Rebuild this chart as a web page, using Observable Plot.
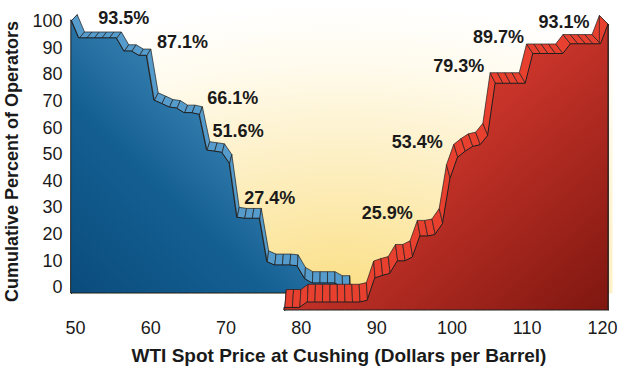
<!DOCTYPE html>
<html>
<head>
<meta charset="utf-8">
<script src="https://cdn.jsdelivr.net/npm/d3@7"></script>
<script src="https://cdn.jsdelivr.net/npm/@observablehq/plot@0.6"></script>
<style>
  body { margin: 0; background: #fff; }
  #chart svg { font-family: "Liberation Sans", Arial, Helvetica, sans-serif; }
</style>
</head>
<body>
<div id="chart"></div>
<script>
// ---- data (cumulative percent of operators by WTI price) ----
const bluePrice = [50,51,52,53,54,55,56,57,58,59,60,61,62,63,64,65,66,67,68,69,70,71,72,73,74,75,76,77,78,79,80,81,82,83,84,85,86,87];
const blueValue = [100,93.5,93.5,93.5,93.5,93.5,93.5,88.7,88.7,87.1,87.1,70.7,69.5,68.2,67.8,66.1,66.1,65.5,52.4,52.0,51.6,47.6,27.8,27.4,27.4,27.4,11.5,10.3,10.3,10.3,10.0,5.3,3.7,3.7,3.7,3.7,2.2,2.2];

const redPrice = [77,78,79,80,81,82,83,84,85,86,87,88,89,90,91,92,93,94,95,96,97,98,99,100,101,102,103,104,105,106,107,108,109,110,111,112,113,114,115,116,117,118,119,120];
const redValue = [0.9,0.9,0.9,2.8,2.8,2.8,2.8,2.8,2.8,2.8,2.8,3.4,11.2,12.1,12.8,17.2,17.2,18.5,25.9,25.9,26.4,30.2,46.0,53.4,55.5,57.2,57.8,61.0,79.3,79.3,79.3,79.3,79.3,89.7,89.7,89.7,89.7,89.7,93.1,93.1,93.1,93.1,93.1,100];

const xTicks = [50,60,70,80,90,100,110,120];
const yTicks = [0,10,20,30,40,50,60,70,80,90,100];

const labelText  = ["93.5%","87.1%","66.1%","51.6%","27.4%","25.9%","53.4%","79.3%","89.7%","93.1%"];
const labelPrice = [56.4, 64.2, 70.9, 71.6, 75.8, 91.4, 95.4, 100.9, 106.2, 114.9];
const labelPct   = [101.1, 92.1, 71.1, 58.6, 33.5, 27.8, 54.5, 83.1, 94.0, 99.6];

const xTitle = "WTI Spot Price at Cushing (Dollars per Barrel)";
const yTitle = "Cumulative Percent of Operators";

// ---- pseudo-3D placement (in chart units) ----
const vanish = {x: 83.9, y: 202};
const blueFace = {dx: -0.53, y0: -2.26, ys: 1.026, depth: 0.022};
const redFace  = {dx: 0.8,  y0: -8.65, ys: 1.075, depth: 0.033};

function build(prices, values, face) {
  const front = prices.map((p, i) => ({x: p + face.dx, y: face.y0 + face.ys * values[i]}));
  const outline = [{x: front[0].x, y: face.y0}, ...front, {x: front[front.length - 1].x, y: face.y0}];
  const back = pt => ({x: pt.x + face.depth * (vanish.x - pt.x), y: pt.y + face.depth * (vanish.y - pt.y)});
  const quads = [];
  for (let i = 0; i < outline.length - 1; i++) {
    const a = outline[i], c = outline[i + 1], ab = back(a), cb = back(c);
    for (const q of [a, c, cb, ab, a]) quads.push({x: q.x, y: q.y, seg: i});
  }
  return {front, quads, base: face.y0};
}
const blue = build(bluePrice, blueValue, blueFace);
const red = build(redPrice, redValue, redFace);

const defs = () => {
  const d = d3.create("svg:defs");
  const bg = d.append("radialGradient").attr("id", "bgGlow").attr("cx", 0.5).attr("cy", 1).attr("r", 1);
  [[0, "#fbdf86"], [0.45, "#fdefc2"], [0.8, "#fffbee"], [1, "#ffffff"]].forEach(([o, c]) =>
    bg.append("stop").attr("offset", o).attr("stop-color", c));
  const bl = d.append("linearGradient").attr("id", "blueFace").attr("x1", 0).attr("y1", 1).attr("x2", 1).attr("y2", 0);
  [[0, "#0a4c7c"], [0.35, "#145f92"], [0.75, "#4a92c3"], [1, "#6aa9d4"]].forEach(([o, c]) =>
    bl.append("stop").attr("offset", o).attr("stop-color", c));
  const rd = d.append("linearGradient").attr("id", "redFace").attr("x1", 0).attr("y1", 0).attr("x2", 1).attr("y2", 1);
  [[0, "#e2412f"], [0.45, "#c9342a"], [1, "#7e1710"]].forEach(([o, c]) =>
    rd.append("stop").attr("offset", o).attr("stop-color", c));
  return d.node();
};

const chart = Plot.plot({
  width: 620,
  height: 375,
  marginLeft: 75,
  marginRight: 18,
  marginTop: 21,
  marginBottom: 88,
  x: {domain: [50, 120]},
  y: {domain: [0, 100]},
  style: {fontFamily: '"Liberation Sans", Arial, Helvetica, sans-serif', background: "white", overflow: "visible"},
  marks: [
    defs,
    Plot.frame({fill: "url(#bgGlow)", stroke: "none", insetLeft: -5, insetRight: -10, insetTop: -18, insetBottom: -6}),
    Plot.line(blue.quads, {x: "x", y: "y", z: "seg", fill: "#559bcc", stroke: "#1e1e1e", strokeWidth: 0.7, curve: "linear"}),
    Plot.areaY(blue.front, {x: "x", y1: blue.base, y2: "y", fill: "url(#blueFace)", stroke: "#1e1e1e", strokeWidth: 1, curve: "linear"}),
    Plot.line(red.quads, {x: "x", y: "y", z: "seg", fill: "#e8402f", stroke: "#1e1e1e", strokeWidth: 0.7, curve: "linear"}),
    Plot.areaY(red.front, {x: "x", y1: red.base, y2: "y", fill: "url(#redFace)", stroke: "#1e1e1e", strokeWidth: 1, curve: "linear"}),
    Plot.text(labelText.map((t, i) => ({t, x: labelPrice[i], y: labelPct[i]})),
      {x: "x", y: "y", text: "t", fontSize: 18, fontWeight: "bold", fill: "#1a1a1a"}),
    Plot.axisX(xTicks, {tickSize: 0, tickPadding: 34, fontSize: 18, fill: "#1a1a1a", label: null}),
    Plot.axisY(yTicks, {tickSize: 0, tickPadding: 13, fontSize: 18, fill: "#1a1a1a", label: null}),
    Plot.text([xTitle], {frameAnchor: "bottom", dy: 74, text: d => d, fontSize: 19, fontWeight: "bold", fill: "#1a1a1a"}),
    Plot.text([yTitle], {frameAnchor: "left", textAnchor: "middle", dx: -63, dy: 7, rotate: -90, text: d => d, fontSize: 18, fontWeight: "bold", fill: "#1a1a1a"})
  ]
});
document.getElementById("chart").appendChild(chart);
</script>
</body>
</html>
